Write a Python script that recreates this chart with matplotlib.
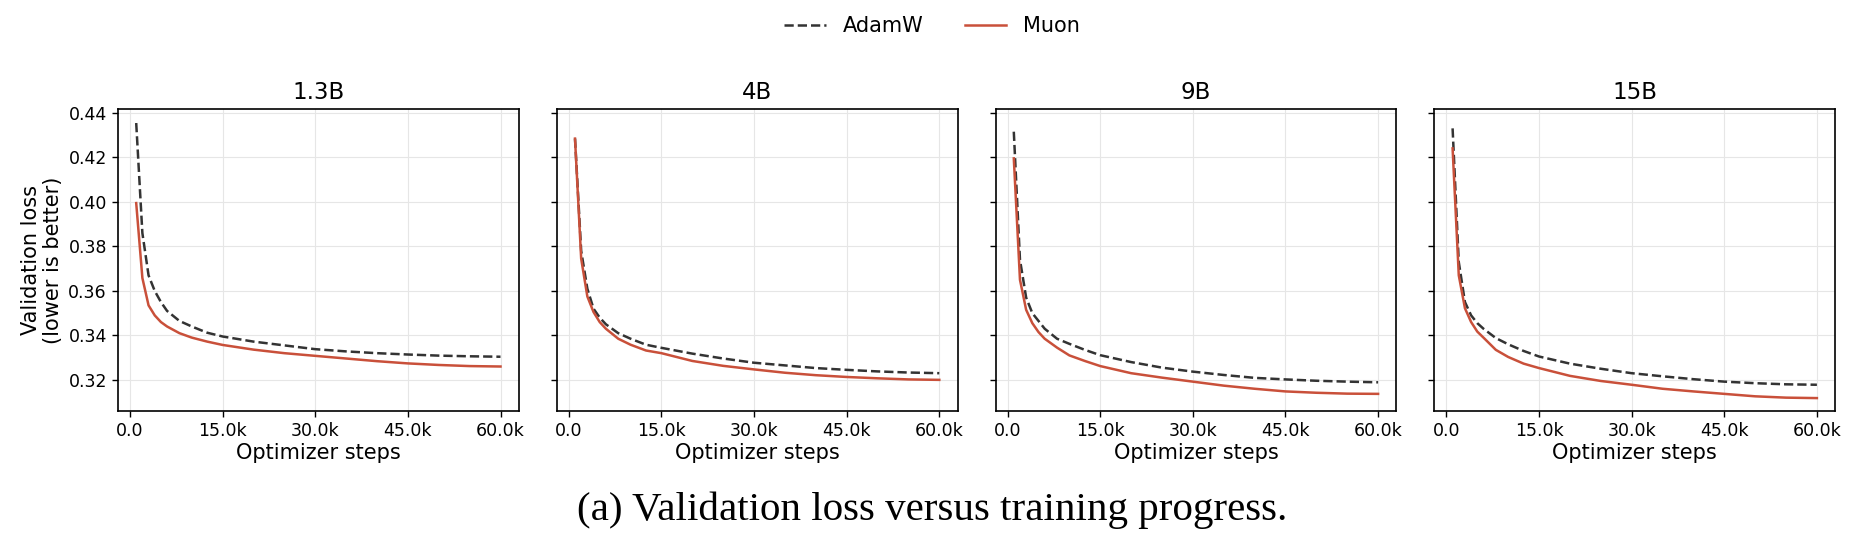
import matplotlib.pyplot as plt
import numpy as np

steps = [1000, 2000, 3000, 4000, 5000, 6000, 8000, 10000, 12500, 15000,
         20000, 25000, 30000, 35000, 40000, 45000, 50000, 55000, 60000]

model_sizes = ["1.3B", "4B", "9B", "15B"]

adamw_13b = [0.4355, 0.386, 0.367, 0.360, 0.355, 0.351, 0.3465, 0.3440, 0.3412, 0.3395,
             0.3372, 0.3355, 0.3338, 0.3328, 0.3320, 0.3314, 0.3309, 0.3306, 0.3304]
muon_13b = [0.3995, 0.3658, 0.3535, 0.3490, 0.3460, 0.3440, 0.3410, 0.3390, 0.3372, 0.3357,
            0.3336, 0.3320, 0.3308, 0.3296, 0.3284, 0.3274, 0.3267, 0.3262, 0.3260]

adamw_4b = [0.4285, 0.378, 0.361, 0.352, 0.348, 0.345, 0.341, 0.3385, 0.3358, 0.3344,
            0.3318, 0.3296, 0.3277, 0.3265, 0.3253, 0.3245, 0.3238, 0.3233, 0.3230]
muon_4b = [0.4285, 0.3745, 0.3575, 0.3505, 0.3460, 0.3430, 0.3385, 0.3358, 0.3332, 0.3320,
           0.3285, 0.3263, 0.3247, 0.3232, 0.3221, 0.3213, 0.3207, 0.3202, 0.3200]

adamw_9b = [0.4316, 0.374, 0.357, 0.350, 0.3465, 0.3430, 0.3385, 0.3362, 0.3335, 0.3311,
            0.3280, 0.3255, 0.3237, 0.3222, 0.3209, 0.3202, 0.3196, 0.3192, 0.3189]
muon_9b = [0.4196, 0.365, 0.3515, 0.3455, 0.3415, 0.3385, 0.3345, 0.3310, 0.3285, 0.3262,
           0.3230, 0.3210, 0.3192, 0.3174, 0.3160, 0.3148, 0.3142, 0.3138, 0.3137]

adamw_15b = [0.4331, 0.373, 0.355, 0.349, 0.3455, 0.3430, 0.3388, 0.3360, 0.3330, 0.3305,
             0.3273, 0.3250, 0.3230, 0.3216, 0.3203, 0.3192, 0.3185, 0.3180, 0.3178]
muon_15b = [0.4241, 0.367, 0.3522, 0.3460, 0.3417, 0.3390, 0.3335, 0.3303, 0.3273, 0.3253,
            0.3218, 0.3195, 0.3178, 0.3160, 0.3148, 0.3137, 0.3126, 0.3120, 0.3118]

adamw_all = [adamw_13b, adamw_4b, adamw_9b, adamw_15b]
muon_all = [muon_13b, muon_4b, muon_9b, muon_15b]

x_ticks = [0, 15000, 30000, 45000, 60000]
x_ticklabels = ["0.0", "15.0k", "30.0k", "45.0k", "60.0k"]
y_ticks = [0.32, 0.34, 0.36, 0.38, 0.40, 0.42, 0.44]

fig, axes = plt.subplots(1, 4, figsize=(18.64, 5.44), dpi=100, sharey=True)
fig.subplots_adjust(left=0.0633, right=0.9845, bottom=0.2445, top=0.7996, wspace=0.095)

for i, ax in enumerate(axes):
    ax.plot(steps, adamw_all[i], linestyle='--', color='#333333', linewidth=1.8, label='AdamW')
    ax.plot(steps, muon_all[i], linestyle='-', color='#c9503a', linewidth=1.8, label='Muon')
    ax.set_title(model_sizes[i], fontsize=16.5, pad=7)
    ax.set_xticks(x_ticks)
    ax.set_xticklabels(x_ticklabels)
    ax.set_yticks(y_ticks)
    ax.set_ylim(0.306, 0.4418)
    ax.set_xlabel("Optimizer steps", fontsize=15, labelpad=2)
    ax.tick_params(axis='both', labelsize=12.5, length=4.5, width=1.0, direction='out')
    ax.grid(True, color='#e6e6e6', linewidth=0.8)
    for spine in ax.spines.values():
        spine.set_linewidth(1.2)
        spine.set_color('black')

axes[0].set_ylabel("Validation loss\n(lower is better)", fontsize=15, labelpad=4, linespacing=1.1)

handles, labels = axes[0].get_legend_handles_labels()
fig.legend(handles, labels, loc='center', bbox_to_anchor=(0.5, 0.952), ncol=2,
           frameon=False, fontsize=15, handlelength=2.0, columnspacing=2.0)

fig.text(0.5, 0.062, "(a) Validation loss versus training progress.",
         ha='center', va='center', fontsize=29.5, family='Liberation Serif')

plt.savefig("out.png", dpi=100)
